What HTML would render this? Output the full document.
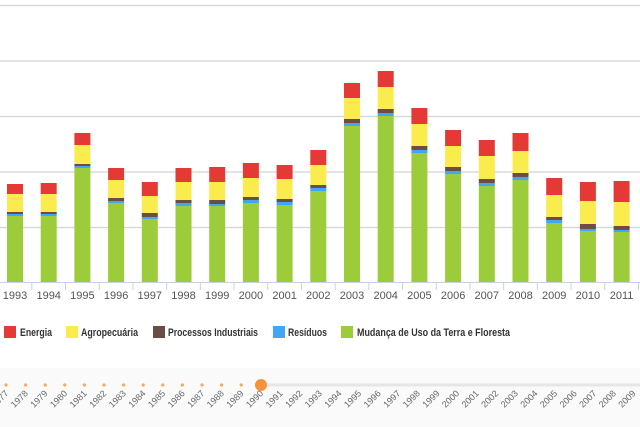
<!DOCTYPE html>
<html><head><meta charset="utf-8"><style>
html,body{margin:0;padding:0;background:#fff;width:640px;height:427px;overflow:hidden}
svg{display:block;font-family:"Liberation Sans",sans-serif}
</style></head><body>
<svg width="640" height="427" xmlns="http://www.w3.org/2000/svg">
<g stroke="#d4d4d4" stroke-width="1.3">
<line x1="0" y1="5.5" x2="640" y2="5.5"/><line x1="0" y1="61" x2="640" y2="61"/>
<line x1="0" y1="116.5" x2="640" y2="116.5"/><line x1="0" y1="172" x2="640" y2="172"/>
<line x1="0" y1="227.5" x2="640" y2="227.5"/>
</g>
<g id="bars"></g>
<line x1="0" y1="282.5" x2="640" y2="282.5" stroke="#c8d2e2" stroke-width="1"/>
<g id="ticks" stroke="#c8d2e2"></g>
<g id="xl" font-size="11" fill="#555" text-anchor="middle"></g>
<g font-size="11" font-weight="bold" fill="#333">
<rect x="4" y="326" width="12" height="12" fill="#e53935"/><text x="20" y="336" textLength="32" lengthAdjust="spacingAndGlyphs">Energia</text>
<rect x="66" y="326" width="12" height="12" fill="#fbec4d"/><text x="81" y="336" textLength="57" lengthAdjust="spacingAndGlyphs">Agropecuária</text>
<rect x="153" y="326" width="12" height="12" fill="#6d4c41"/><text x="168" y="336" textLength="90" lengthAdjust="spacingAndGlyphs">Processos Industriais</text>
<rect x="273" y="326" width="12" height="12" fill="#42a5f5"/><text x="288" y="336" textLength="39" lengthAdjust="spacingAndGlyphs">Resíduos</text>
<rect x="341" y="326" width="12" height="12" fill="#9ccc3a"/><text x="357" y="336" textLength="153" lengthAdjust="spacingAndGlyphs">Mudança de Uso da Terra e Floresta</text>
</g>
<rect x="0" y="368" width="640" height="59" fill="#fafafa"/>
<line x1="261" y1="385" x2="640" y2="385" stroke="#e6e6e6" stroke-width="3"/>
<g id="tl"></g>
<circle cx="261" cy="385" r="6" fill="#f7923a"/>
</svg>
<script>
var d=[[184,194,212,214,216],[183,194,212,214,216],[133,145,164,166,168],[168,180,198,201,203],[182,196,213,217,219],[168,182,200,203,206],[167,182,200,204,206],[163,178,197,200,203],[165,179,199,202,205],[150,165,185,188,191],[83,98,119,123,126],[71,87,109,113,116],[108,124,146,150,153],[130,146,167,171,174],[140,156,179,183,186],[133,151,173,177,180],[178,195,217,220,223],[182,201,224,229,231],[181,202,226,230,232]];
var c=["#e53935","#fbec4d","#6d4c41","#42a5f5","#9ccc3a"],s="",t="",l="";
d.forEach(function(b,i){var cx=15+i*33.7,x=cx-8;var e=b.concat([282]);
for(var k=0;k<5;k++)s+='<rect x="'+x+'" y="'+e[k]+'" width="16" height="'+(e[k+1]-e[k])+'" fill="'+c[k]+'"/>';
l+='<text x="'+cx+'" y="299">'+(1993+i)+'</text>';
t+='<line x1="'+(cx+16.85)+'" y1="282" x2="'+(cx+16.85)+'" y2="290"/>';});
document.getElementById('bars').innerHTML=s;document.getElementById('ticks').innerHTML=t;document.getElementById('xl').innerHTML=l;
var g="";for(var y=1977;y<=2009;y++){var x=6+(y-1977)*19.6;if(y<1990)g+='<circle cx="'+x+'" cy="385" r="1.6" fill="#f7a85a"/>';
g+='<text x="'+(x+3)+'" y="394" font-size="9" fill="#666" text-anchor="end" transform="rotate(-45 '+(x+3)+' 394)">'+y+'</text>';}
document.getElementById('tl').innerHTML=g;
</script>
</body></html>
